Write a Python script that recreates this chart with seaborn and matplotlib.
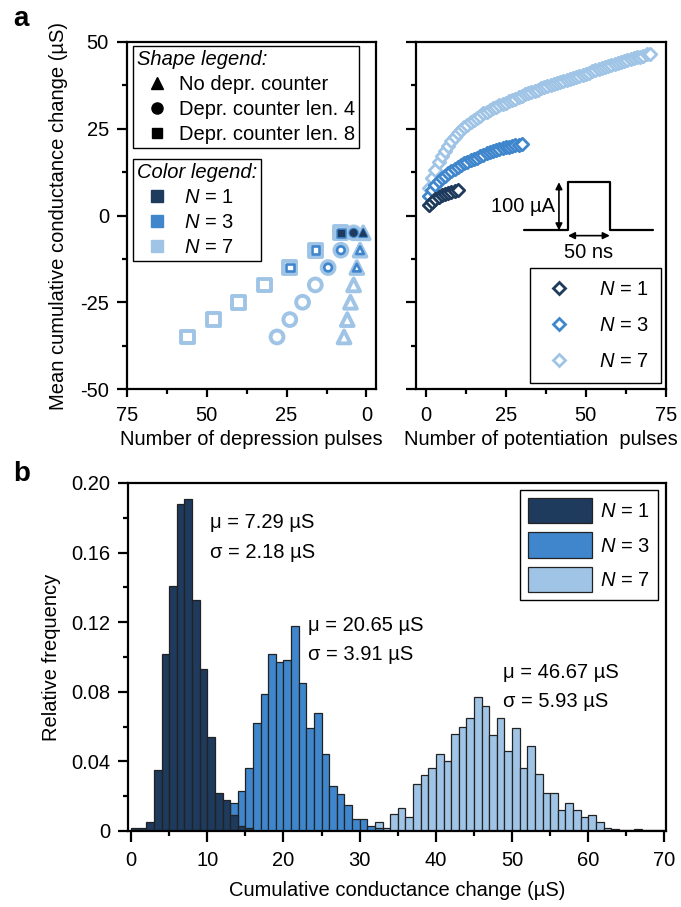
import numpy as np
import pandas as pd
import matplotlib
matplotlib.use("Agg")
import matplotlib.pyplot as plt
import seaborn as sns
from matplotlib.lines import Line2D
from matplotlib.patches import Patch
from matplotlib.ticker import MultipleLocator


# -----------------------------
# data
# -----------------------------
n_labels = ["$N$ = 1", "$N$ = 3", "$N$ = 7"]
n_colors = ["#1e3a5c", "#3f86cc", "#9fc4e6"]

# panel a (left): depression steps, N = 7 uses all, N = 3 the last 3, N = 1 the last one
depr_change = [-35, -30, -25, -20, -15, -10, -5]
tri_pulses = [7, 6, 5, 4, 3, 2, 1]           # no depression counter
circ_pulses = [28, 24, 20, 16, 12, 8, 4]     # counter length 4
sq_pulses = [56, 48, 40, 32, 24, 16, 8]      # counter length 8

# panel a (right): mean cumulative change after each potentiation pulse
pot_n1 = [3.0, 4.0, 4.7, 5.3, 5.8, 6.2, 6.6, 6.9, 7.1, 7.29]
pot_n3 = [5.5, 7.3, 8.7, 9.8, 10.7, 11.5, 12.2, 12.9, 13.5, 14.0,
          14.5, 15.0, 15.4, 15.9, 16.3, 16.7, 17.1, 17.5, 17.9, 18.3,
          18.6, 18.9, 19.1, 19.4, 19.6, 19.8, 20.0, 20.2, 20.4, 20.65]
pot_n7 = [8.0, 10.8, 13.2, 15.3, 17.1, 18.7, 20.1, 21.4, 22.6, 23.7,
          24.6, 25.4, 26.2, 26.9, 27.6, 28.2, 28.8, 29.4, 29.9, 30.4,
          30.9, 31.3, 31.7, 32.1, 32.5, 32.9, 33.3, 33.7, 34.1, 34.5,
          34.9, 35.2, 35.6, 35.9, 36.3, 36.6, 36.9, 37.3, 37.6, 37.9,
          38.2, 38.5, 38.8, 39.1, 39.4, 39.7, 40.0, 40.3, 40.6, 40.9,
          41.2, 41.5, 41.8, 42.1, 42.4, 42.7, 43.0, 43.3, 43.6, 43.9,
          44.2, 44.5, 44.8, 45.0, 45.3, 45.6, 45.8, 46.1, 46.4, 46.67]

# panel b: relative frequency per 1 uS bin
bin_edges = list(range(0, 71))
hist_n1_start = 0
hist_n1 = [0.002, 0.002, 0.005, 0.035, 0.102, 0.141, 0.188, 0.191, 0.133, 0.093,
           0.054, 0.022, 0.018, 0.009, 0.003, 0.002]
hist_n3_start = 13
hist_n3 = [0.016, 0.023, 0.036, 0.062, 0.079, 0.102, 0.097, 0.098, 0.118, 0.085,
           0.059, 0.068, 0.044, 0.026, 0.021, 0.015, 0.007, 0.007, 0.003, 0.002]
hist_n7_start = 31
hist_n7 = [0.001, 0.005, 0.002, 0.010, 0.013, 0.008, 0.027, 0.032, 0.036, 0.044,
           0.040, 0.056, 0.060, 0.065, 0.077, 0.072, 0.055, 0.065, 0.046, 0.059,
           0.036, 0.049, 0.033, 0.022, 0.022, 0.012, 0.016, 0.012, 0.008, 0.009,
           0.005, 0.002, 0.001, 0.0005, 0.0005, 0.001, 0.0005, 0.0005, 0.0005]
hist_text = [("μ = 7.29 µS", "σ = 2.18 µS"),
             ("μ = 20.65 µS", "σ = 3.91 µS"),
             ("μ = 46.67 µS", "σ = 5.93 µS")]


# -----------------------------
# style
# -----------------------------
sns.set_theme(style="ticks")
plt.rcParams["font.family"] = ["Liberation Sans", "DejaVu Sans"]
fs = 14.5
plt.rcParams.update({
    "font.size": fs,
    "axes.labelsize": fs,
    "xtick.labelsize": fs,
    "ytick.labelsize": fs,
    "legend.fontsize": fs,
    "legend.title_fontsize": fs,
    "text.color": "black",
    "axes.unicode_minus": False,
    "mathtext.fontset": "custom",
    "mathtext.rm": "Liberation Sans",
    "mathtext.it": "Liberation Sans:italic",
    "axes.linewidth": 1.6,
    "axes.edgecolor": "black",
    "axes.labelcolor": "black",
    "xtick.color": "black",
    "ytick.color": "black",
    "xtick.major.size": 6,
    "ytick.major.size": 7,
    "xtick.minor.size": 3.5,
    "ytick.minor.size": 3.5,
    "xtick.major.width": 1.6,
    "ytick.major.width": 1.6,
    "xtick.minor.width": 1.6,
    "ytick.minor.width": 1.6,
    "xtick.major.pad": 6.5,
    "ytick.major.pad": 6,
})

fig = plt.figure(figsize=(6.81, 9.07), dpi=100)
ax_d = fig.add_axes([0.1865, 0.5711, 0.3656, 0.3826])
ax_p = fig.add_axes([0.6112, 0.5711, 0.3665, 0.3826])
ax_h = fig.add_axes([0.188, 0.0838, 0.790, 0.3837])


# -----------------------------
# panel a, left: depression
# -----------------------------
marker_map = {"tri": "^", "circ": "o", "sq": "s"}
# drawn largest first so the smaller N sit inside the bigger rings
for n_idx, k, s, lw in [(2, 7, 85, 2.8), (1, 3, 30, 1.9), (0, 1, 22, 1.0)]:
    rows = []
    for shape, pulses in [("tri", tri_pulses), ("circ", circ_pulses), ("sq", sq_pulses)]:
        for p, c in zip(pulses[-k:], depr_change[-k:]):
            rows.append({"shape": shape, "pulses": p, "change": c})
    df = pd.DataFrame(rows)
    color = n_colors[n_idx]
    face = color if n_idx == 0 else "white"
    sns.scatterplot(data=df, x="pulses", y="change", style="shape",
                    markers=marker_map, s=s, facecolor=face, edgecolor=color,
                    linewidth=lw, legend=False, ax=ax_d, clip_on=False)

ax_d.set_xlim(75, -3)
ax_d.set_ylim(-50, 50)
ax_d.xaxis.set_major_locator(MultipleLocator(25))
ax_d.xaxis.set_minor_locator(MultipleLocator(12.5))
ax_d.yaxis.set_major_locator(MultipleLocator(25))
ax_d.yaxis.set_minor_locator(MultipleLocator(12.5))
ax_d.set_xlabel("Number of depression pulses", labelpad=3)
ax_d.set_ylabel("Mean cumulative conductance change (µS)", labelpad=9)

shape_handles = [
    Line2D([], [], ls="none", marker="^", ms=9, color="black"),
    Line2D([], [], ls="none", marker="o", ms=8, color="black"),
    Line2D([], [], ls="none", marker="s", ms=7, color="black"),
]
leg1 = ax_d.legend(shape_handles,
                   ["No depr. counter", "Depr. counter len. 4", "Depr. counter len. 8"],
                   title="Shape legend:", title_fontproperties={"style": "italic", "size": fs},
                   alignment="left", loc="upper left", bbox_to_anchor=(0.024, 0.988),
                   borderaxespad=0, borderpad=0.2, handlelength=2.0, handletextpad=0.1,
                   labelspacing=0.3, frameon=True, fancybox=False, edgecolor="black",
                   framealpha=1)
leg1.get_frame().set_linewidth(1.0)
ax_d.add_artist(leg1)

color_handles = [Line2D([], [], ls="none", marker="s", ms=8, color=c) for c in n_colors]
leg2 = ax_d.legend(color_handles, n_labels, title="Color legend:",
                   title_fontproperties={"style": "italic", "size": fs},
                   alignment="left", loc="upper left", bbox_to_anchor=(0.024, 0.662),
                   borderaxespad=0, borderpad=0.2, handlelength=2.0, handletextpad=0.35,
                   labelspacing=0.3, frameon=True, fancybox=False, edgecolor="black",
                   framealpha=1)
leg2.get_frame().set_linewidth(1.0)


# -----------------------------
# panel a, right: potentiation
# -----------------------------
for vals, color in [(pot_n7, n_colors[2]), (pot_n3, n_colors[1]), (pot_n1, n_colors[0])]:
    sns.scatterplot(x=list(range(1, len(vals) + 1)), y=vals, marker="D", s=40,
                    facecolor="white", edgecolor=color, linewidth=2.0,
                    legend=False, ax=ax_p)

ax_p.set_xlim(-3, 75)
ax_p.set_ylim(-50, 50)
ax_p.xaxis.set_major_locator(MultipleLocator(25))
ax_p.xaxis.set_minor_locator(MultipleLocator(12.5))
ax_p.yaxis.set_major_locator(MultipleLocator(25))
ax_p.yaxis.set_minor_locator(MultipleLocator(12.5))
ax_p.tick_params(axis="y", labelleft=False)
ax_p.set_xlabel("Number of potentiation  pulses", labelpad=3)
ax_p.set_ylabel("")

# current pulse sketch
ax_p.plot([30.6, 44.4, 44.4, 57.5, 57.5, 70.9], [-4.3, -4.3, 9.6, 9.6, -4.3, -4.3],
          color="black", lw=1.6)
ax_p.annotate("", xy=(41.6, 9.6), xytext=(41.6, -4.3),
              arrowprops=dict(arrowstyle="<|-|>", color="black", lw=1.2,
                              mutation_scale=10, shrinkA=0, shrinkB=0))
ax_p.annotate("", xy=(44.4, -5.8), xytext=(57.5, -5.8),
              arrowprops=dict(arrowstyle="<|-|>", color="black", lw=1.2,
                              mutation_scale=10, shrinkA=0, shrinkB=0))
ax_p.text(40.4, 2.6, "100 µA", ha="right", va="center")
ax_p.text(51, -10.8, "50 ns", ha="center", va="center")

pot_handles = [Line2D([], [], ls="none", marker="D", ms=6.5, mfc="white", mec=c, mew=2.0)
               for c in n_colors]
leg3 = ax_p.legend(pot_handles, n_labels, loc="lower right", bbox_to_anchor=(0.98, 0.017),
                   borderaxespad=0, borderpad=0.6, handlelength=1.6, handletextpad=1.2,
                   labelspacing=0.85, frameon=True, fancybox=False, edgecolor="black",
                   framealpha=1)
leg3.get_frame().set_linewidth(1.0)


# -----------------------------
# panel b: histograms
# -----------------------------
for start, heights, color in [(hist_n7_start, hist_n7, n_colors[2]),
                              (hist_n3_start, hist_n3, n_colors[1]),
                              (hist_n1_start, hist_n1, n_colors[0])]:
    centers = [start + i + 0.5 for i in range(len(heights))]
    sns.histplot(x=centers, weights=heights, bins=bin_edges, color=color,
                 edgecolor="#222222", linewidth=0.9, alpha=1, ax=ax_h)

ax_h.set_xlim(-0.4, 70.2)
ax_h.set_ylim(0, 0.2)
ax_h.xaxis.set_major_locator(MultipleLocator(10))
ax_h.xaxis.set_minor_locator(MultipleLocator(5))
ax_h.yaxis.set_major_locator(MultipleLocator(0.04))
ax_h.yaxis.set_minor_locator(MultipleLocator(0.02))
ax_h.set_yticks([0, 0.04, 0.08, 0.12, 0.16, 0.20])
ax_h.set_yticklabels(["0", "0.04", "0.08", "0.12", "0.16", "0.20"])
ax_h.tick_params(axis="x", which="major", length=8)
ax_h.set_xlabel("Cumulative conductance change (µS)", labelpad=8)
ax_h.set_ylabel("Relative frequency", labelpad=7)

for (mu, sd), (x, y) in zip(hist_text, [(10.4, 0.177), (23.2, 0.118), (48.8, 0.091)]):
    ax_h.text(x, y, mu, ha="left", va="center")
    ax_h.text(x, y - 0.0168, sd, ha="left", va="center")

hist_handles = [Patch(facecolor=c, edgecolor="#222222", linewidth=0.9) for c in n_colors]
leg4 = ax_h.legend(hist_handles, n_labels, loc="upper right", bbox_to_anchor=(0.985, 0.98),
                   borderaxespad=0, borderpad=0.4, handlelength=3.2, handleheight=1.55,
                   handletextpad=0.4, labelspacing=0.45, frameon=True, fancybox=False,
                   edgecolor="black", framealpha=1)
leg4.get_frame().set_linewidth(1.0)

fig.text(0.02, 1 - 26 / 907, "a", fontsize=20, fontweight="bold", va="baseline")
fig.text(0.02, 1 - 481 / 907, "b", fontsize=20, fontweight="bold", va="baseline")

fig.savefig("out.png", dpi=100)
